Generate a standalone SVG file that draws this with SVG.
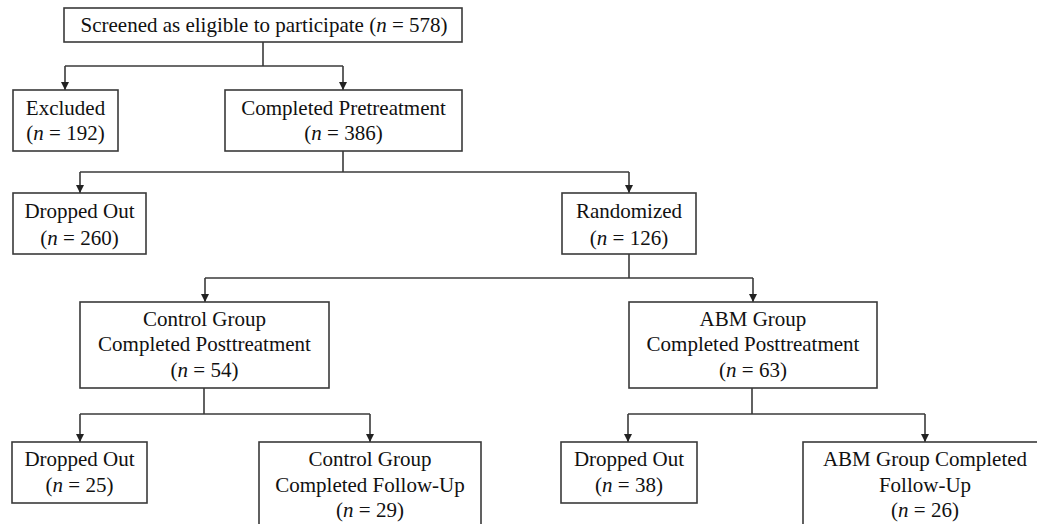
<svg xmlns="http://www.w3.org/2000/svg" width="1037" height="524" viewBox="0 0 1037 524">
<style>
.box{fill:#fff;stroke:#3a3a3a;stroke-width:1.6}
.t{font-family:"Liberation Serif","Times New Roman",serif;font-size:21px;fill:#111;text-anchor:middle}
.c{fill:none;stroke:#3a3a3a;stroke-width:1.6}
</style>
<defs>
<marker id="ah" markerWidth="8" markerHeight="8" refX="4" refY="8" orient="0" markerUnits="userSpaceOnUse" viewBox="0 0 8 8">
<path d="M0,0 L8,0 L4,8 Z" fill="#222"/>
</marker>
</defs>
<rect width="1037" height="524" fill="#fff"/>
<g id="connectors">
<path class="c" d="M263,42 V66"/>
<path class="c" d="M65,66 H343"/>
<path class="c" d="M65,66 V90" marker-end="url(#ah)"/>
<path class="c" d="M343,66 V90" marker-end="url(#ah)"/>
<path class="c" d="M343,151 V172"/>
<path class="c" d="M80,172 H629"/>
<path class="c" d="M80,172 V193" marker-end="url(#ah)"/>
<path class="c" d="M629,172 V193" marker-end="url(#ah)"/>
<path class="c" d="M629,254 V278"/>
<path class="c" d="M205,278 H753"/>
<path class="c" d="M205,278 V302" marker-end="url(#ah)"/>
<path class="c" d="M753,278 V302" marker-end="url(#ah)"/>
<path class="c" d="M204,388 V414"/>
<path class="c" d="M80,414 H370"/>
<path class="c" d="M80,414 V442" marker-end="url(#ah)"/>
<path class="c" d="M370,414 V442" marker-end="url(#ah)"/>
<path class="c" d="M752,388 V414"/>
<path class="c" d="M628,414 H925"/>
<path class="c" d="M628,414 V442" marker-end="url(#ah)"/>
<path class="c" d="M925,414 V442" marker-end="url(#ah)"/>
</g>
<g id="screened">
<rect class="box" x="64" y="8" width="398" height="34"/>
<text class="t" x="264" y="32">Screened as eligible to participate (<tspan font-style="italic">n</tspan> = 578)</text>
</g>
<g id="excluded">
<rect class="box" x="13" y="90" width="105" height="61"/>
<text class="t" x="65.5" y="115">Excluded</text>
<text class="t" x="65.5" y="140">(<tspan font-style="italic">n</tspan> = 192)</text>
</g>
<g id="pretreatment">
<rect class="box" x="225" y="90" width="237" height="61"/>
<text class="t" x="343.5" y="115">Completed Pretreatment</text>
<text class="t" x="343.5" y="140">(<tspan font-style="italic">n</tspan> = 386)</text>
</g>
<g id="dropped1">
<rect class="box" x="13" y="193" width="133" height="61"/>
<text class="t" x="79.5" y="218">Dropped Out</text>
<text class="t" x="79.5" y="245">(<tspan font-style="italic">n</tspan> = 260)</text>
</g>
<g id="randomized">
<rect class="box" x="562" y="193" width="134" height="61"/>
<text class="t" x="629" y="218">Randomized</text>
<text class="t" x="629" y="245">(<tspan font-style="italic">n</tspan> = 126)</text>
</g>
<g id="control-post">
<rect class="box" x="80" y="302" width="249" height="86"/>
<text class="t" x="204.5" y="326">Control Group</text>
<text class="t" x="204.5" y="351">Completed Posttreatment</text>
<text class="t" x="204.5" y="377">(<tspan font-style="italic">n</tspan> = 54)</text>
</g>
<g id="abm-post">
<rect class="box" x="629" y="302" width="248" height="86"/>
<text class="t" x="753" y="326">ABM Group</text>
<text class="t" x="753" y="351">Completed Posttreatment</text>
<text class="t" x="753" y="377">(<tspan font-style="italic">n</tspan> = 63)</text>
</g>
<g id="dropped-control">
<rect class="box" x="12" y="442" width="135" height="61"/>
<text class="t" x="79.5" y="466">Dropped Out</text>
<text class="t" x="79.5" y="492">(<tspan font-style="italic">n</tspan> = 25)</text>
</g>
<g id="control-follow">
<rect class="box" x="259" y="442" width="222" height="100"/>
<text class="t" x="370" y="466">Control Group</text>
<text class="t" x="370" y="492">Completed Follow-Up</text>
<text class="t" x="370" y="517">(<tspan font-style="italic">n</tspan> = 29)</text>
</g>
<g id="dropped-abm">
<rect class="box" x="561" y="442" width="136" height="61"/>
<text class="t" x="629" y="466">Dropped Out</text>
<text class="t" x="629" y="492">(<tspan font-style="italic">n</tspan> = 38)</text>
</g>
<g id="abm-follow">
<rect class="box" x="803" y="442" width="250" height="100"/>
<text class="t" x="925" y="466">ABM Group Completed</text>
<text class="t" x="925" y="492">Follow-Up</text>
<text class="t" x="925" y="517">(<tspan font-style="italic">n</tspan> = 26)</text>
</g>
</svg>
